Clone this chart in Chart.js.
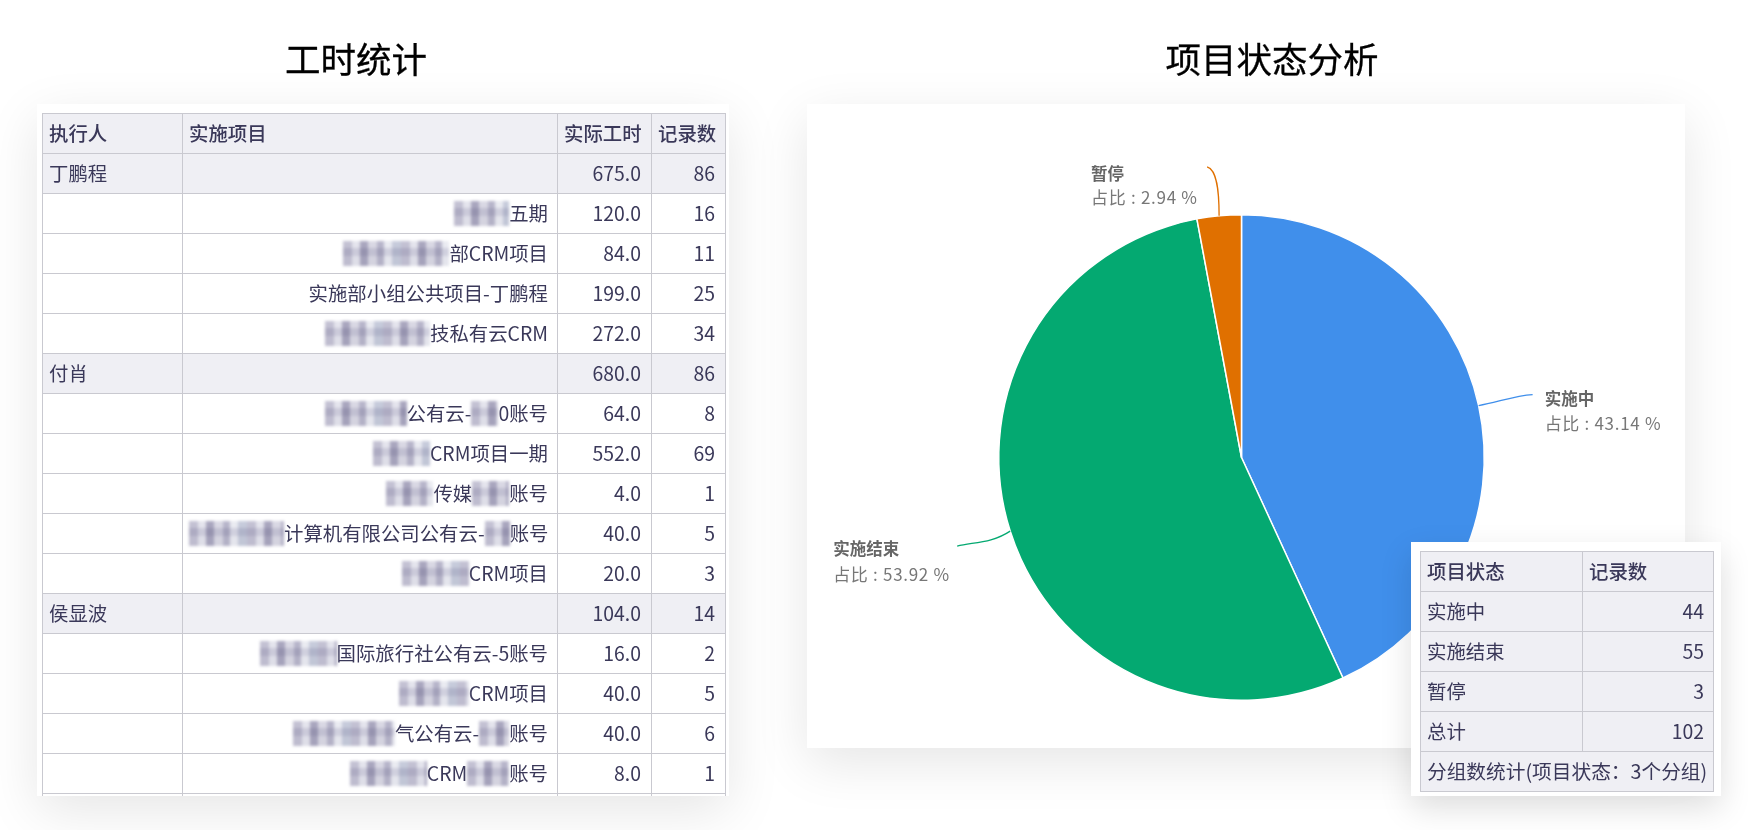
<!DOCTYPE html>
<html lang="zh">
<head>
<meta charset="utf-8">
<title>工时统计 / 项目状态分析</title>
<script src="https://cdn.jsdelivr.net/npm/chart.js@4"></script>
<style>
html,body{margin:0;padding:0;background:#fff;width:1748px;height:830px;overflow:hidden;font-family:"Noto Sans CJK SC","Noto Sans",sans-serif;}
.title{position:absolute;top:33px;font-size:35.5px;line-height:50px;color:#000;white-space:nowrap;transform:translateX(-50%);-webkit-text-stroke:.3px #000;filter:blur(.3px);}
.card{position:absolute;background:#fff;box-shadow:0 15px 50px rgba(0,0,0,.10);}
#hoursCard{left:37px;top:104px;width:692px;height:692px;overflow:hidden;}
#pieCard{left:807px;top:104px;width:878px;height:644px;}
#pieCard canvas{display:block;}
#statusCard{left:1411px;top:542px;width:310px;height:254px;box-shadow:0 12px 30px rgba(0,0,0,.13);}
.clip{position:absolute;left:5px;top:9px;width:684px;height:683px;overflow:hidden;}
table{border-collapse:collapse;table-layout:fixed;color:#3a3859;font-size:19.4px;filter:blur(.35px);}
td,th{border:1px solid #c9c9d0;height:39px;padding:0 10px 2px 6px;box-sizing:border-box;white-space:nowrap;overflow:hidden;font-weight:400;text-align:left;}
tr{height:40px;}
th{background:#efeff4;font-weight:500;}
.num{text-align:right;}
.proj{text-align:right;padding-right:9px;}
.shade td{background:#efeff4;}
.mask{display:inline-block;height:25px;vertical-align:-5px;filter:blur(1.8px);background-blend-mode:multiply;
 background-color:#fff;
 background-image:
  repeating-linear-gradient(180deg,#f7f7fa 0 7px,#dcdbe6 7px 15px,#f1f1f5 15px 25px),
  repeating-linear-gradient(90deg,#c9c7d7 0 9px,#ebebf1 9px 17px,#aeabc2 17px 25px,#e0dfe8 25px 34px,#bdbbce 34px 41px,#f1f2f6 41px 49px,#ccd1df 49px 58px);}
#statusTable{position:absolute;left:9px;top:9px;width:293px;}
#statusTable td,#statusTable th{padding:0 9px 2px 6px;background:#efeff4;}
</style>
</head>
<body>
<div class="title" style="left:356px">工时统计</div>
<div class="title" style="left:1272px">项目状态分析</div>

<div class="card" id="hoursCard"><div class="clip"><table id="hoursTable" style="width:683px"></table></div></div>
<div class="card" id="pieCard"><canvas id="pie" width="878" height="644"></canvas></div>
<div class="card" id="statusCard"><table id="statusTable"></table></div>

<script>
// --- hours table data ("▓" marks a mosaic-hidden stretch of the source text)
const hourHeaders = ["执行人", "实施项目", "实际工时", "记录数"];
const executors = ["丁鹏程", "", "", "", "", "付肖", "", "", "", "", "", "侯显波", "", "", "", ""];
const projects = ["", "▓五期", "▓部CRM项目", "实施部小组公共项目-丁鹏程", "▓技私有云CRM", "",
  "▓公有云-▓0账号", "▓CRM项目一期", "▓传媒▓账号", "▓计算机有限公司公有云-▓账号", "▓CRM项目", "",
  "▓国际旅行社公有云-5账号", "▓CRM项目", "▓气公有云-▓账号", "▓CRM▓账号"];
const hours = ["675.0", "120.0", "84.0", "199.0", "272.0", "680.0", "64.0", "552.0", "4.0", "40.0", "20.0", "104.0", "16.0", "40.0", "40.0", "8.0"];
const records = [86, 16, 11, 25, 34, 86, 8, 69, 1, 5, 3, 14, 2, 5, 6, 1];

// --- project status data
const statusHeaders = ["项目状态", "记录数"];
const statusLabels = ["实施中", "实施结束", "暂停"];
const statusCounts = [44, 55, 3];
const statusTotalLabel = "总计";
const statusTotal = 102;
const statusFooter = "分组数统计(项目状态：3个分组)";
const statusColors = ["#408FEB", "#04A971", "#E07000"];

// --- presentation only
const maskWidths = [55, 106, 105, 82, 27, 57, 47, 37, 95, 25, 67, 77, 70, 102, 30, 77, 42];
const colWidths = [140, 375, 94, 74];
const leaders = [
  {end:[54,-11], c1:[18,-3], c2:[36,-10], text:[66,-7], gap:25},
  {end:[-53,15], c1:[-18,12], c2:[-36,11], text:[-177,18], gap:25},
  {end:[-12,-49], c1:[0,-25], c2:[-2,-46], text:[-128,-42], gap:24}
];

// build hours table
const hoursTable = document.getElementById("hoursTable");
let maskIdx = 0;
function projectHtml(s){
  return s.split("▓").map((part,i)=> (i>0 ? `<span class="mask" style="width:${maskWidths[maskIdx++]}px"></span>` : "") + part).join("");
}
let hHtml = "<colgroup>" + colWidths.map(w=>`<col style="width:${w}px">`).join("") + "</colgroup>";
hHtml += "<tr>" + hourHeaders.map(h=>`<th>${h}</th>`).join("") + "</tr>";
executors.forEach((e,i)=>{
  hHtml += `<tr class="${e ? "shade" : ""}"><td>${e}</td><td class="proj">${projectHtml(projects[i])}</td><td class="num">${hours[i]}</td><td class="num">${records[i]}</td></tr>`;
});
hHtml += "<tr><td></td><td></td><td></td><td></td></tr>";
hoursTable.innerHTML = hHtml;

// build status table
let sHtml = '<colgroup><col style="width:162px"><col style="width:131px"></colgroup>';
sHtml += "<tr>" + statusHeaders.map(h=>`<th>${h}</th>`).join("") + "</tr>";
statusLabels.forEach((l,i)=>{ sHtml += `<tr><td>${l}</td><td class="num">${statusCounts[i]}</td></tr>`; });
sHtml += `<tr><td>${statusTotalLabel}</td><td class="num">${statusTotal}</td></tr>`;
sHtml += `<tr><td colspan="2" style="font-size:19.7px;padding-right:0">${statusFooter}</td></tr>`;
document.getElementById("statusTable").innerHTML = sHtml;

// leader lines + outside labels, anchored on the arcs the library computed
const leaderPlugin = {
  id: "leaderLabels",
  afterDatasetsDraw(chart){
    const ctx = chart.ctx;
    const meta = chart.getDatasetMeta(0);
    const total = statusCounts.reduce((a,b)=>a+b,0);
    meta.data.forEach((arc,i)=>{
      const mid = (arc.startAngle + arc.endAngle) / 2;
      const ax = arc.x + Math.cos(mid) * arc.outerRadius;
      const ay = arc.y + Math.sin(mid) * arc.outerRadius;
      const L = leaders[i];
      ctx.save();
      ctx.strokeStyle = statusColors[i];
      ctx.lineWidth = 1.3;
      ctx.beginPath();
      ctx.moveTo(ax, ay);
      ctx.bezierCurveTo(ax+L.c1[0], ay+L.c1[1], ax+L.c2[0], ay+L.c2[1], ax+L.end[0], ay+L.end[1]);
      ctx.stroke();
      ctx.textBaseline = "middle";
      ctx.textAlign = "left";
      ctx.fillStyle = "#666";
      ctx.font = '700 16.5px "Noto Sans CJK SC"';
      ctx.fillText(statusLabels[i], ax+L.text[0], ay+L.text[1]);
      ctx.fillStyle = "#777";
      ctx.font = '400 17px "Noto Sans CJK SC"';
      ctx.letterSpacing = "0.7px";
      ctx.fillText("占比 : " + (statusCounts[i]/total*100).toFixed(2) + " %", ax+L.text[0], ay+L.text[1]+L.gap);
      ctx.restore();
    });
  }
};

new Chart(document.getElementById("pie"), {
  type: "pie",
  data: { labels: statusLabels, datasets: [{ data: statusCounts, backgroundColor: statusColors, borderColor: "#fff", borderWidth: 1.5 }] },
  options: {
    responsive: false,
    animation: false,
    layout: { padding: { left: 191, right: 200, top: 110, bottom: 47 } },
    plugins: { legend: { display: false }, tooltip: { enabled: false }, title: { display: false } }
  },
  plugins: [leaderPlugin]
});
</script>
</body>
</html>
